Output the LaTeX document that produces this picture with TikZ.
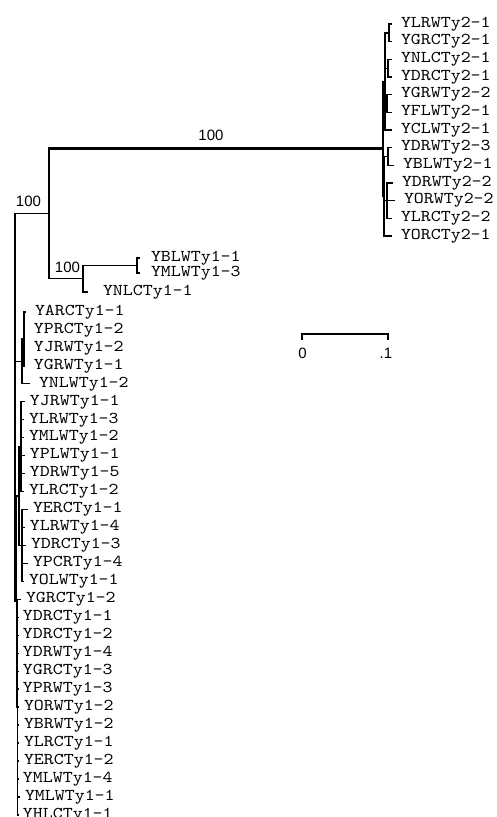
\documentclass[tikz,border=0pt]{standalone}
\usepackage{fontspec}
\newfontfamily\leaffont[FakeStretch=1.15]{lmmono10-regular.otf}
\newfontfamily\suppfont{Liberation Sans}

\begin{document}
\begin{tikzpicture}[x=1pt, y=-1pt,
  leaf/.style={anchor=west, inner sep=1pt, outer xsep=#1, font=\fontsize{16.5}{18}\leaffont},
  leaf/.default=8pt,
  supp/.style={inner sep=0pt, font=\fontsize{15}{15}\suppfont},
  br/.style={line width=1.3pt},
  main/.style={line width=3pt},
  scl/.style={line width=1.8pt}]
\useasboundingbox (0,0) rectangle (496,817);
% internal nodes
\coordinate (root) at (15,407.1); \coordinate (a) at (49,213.4);
\coordinate (b) at (83,278.8); \coordinate (bb) at (137,265.5);
\coordinate (t2) at (383,148);
\coordinate (u) at (385,81.4); \coordinate (ua) at (389,32.9); \coordinate (ub) at (388,68.2); \coordinate (uc) at (387,103.5);
\coordinate (l) at (384,196.3); \coordinate (la) at (388,156.6); \coordinate (lb) at (387,200.7);
\coordinate (s1) at (22,361.4); \coordinate (s1a) at (24,339);
\coordinate (g) at (16.5,601.6); \coordinate (g1) at (19,496.1); \coordinate (g1a) at (21,446.7); \coordinate (g1b) at (22,545.5);
\coordinate (g2) at (17.5,707.2);
% Ty2 leaves
\node[leaf] (ylrw21) at (392,24.0) {YLRWTy2-1};
\node[leaf] (ygrc21) at (392,41.7) {YGRCTy2-1};
\node[leaf] (ynlc21) at (392,59.3) {YNLCTy2-1};
\node[leaf] (ydrc21) at (392,77.0) {YDRCTy2-1};
\node[leaf] (ygrw22) at (392,94.7) {YGRWTy2-2};
\node[leaf] (yflw21) at (392,112.3) {YFLWTy2-1};
\node[leaf] (yclw21) at (392,130.0) {YCLWTy2-1};
\node[leaf] (ydrw23) at (392,147.7) {YDRWTy2-3};
\node[leaf] (yblw21) at (394,165.4) {YBLWTy2-1};
\node[leaf] (ydrw22) at (393,183.0) {YDRWTy2-2};
\node[leaf] (yorw22) at (395,200.7) {YORWTy2-2};
\node[leaf] (ylrc22) at (392,218.4) {YLRCTy2-2};
\node[leaf] (yorc21) at (392,236.0) {YORCTy2-1};
% Ty1 leaves
\node[leaf=10pt] (yblw11) at (140,258) {YBLWTy1-1};
\node[leaf=10pt] (ymlw13) at (140,273) {YMLWTy1-3};
\node[leaf=14pt] (ynlc11) at (88,292) {YNLCTy1-1};
\node[leaf] (yarc11) at (26,312.0) {YARCTy1-1};
\node[leaf] (yprc12) at (25,330.0) {YPRCTy1-2};
\node[leaf] (yjrw12) at (25,347.9) {YJRWTy1-2};
\node[leaf] (ygrw11) at (25,365.9) {YGRWTy1-1};
\node[leaf] (ynlw12) at (30,383.8) {YNLWTy1-2};
\node[leaf=4pt] (yjrw11) at (25,401.8) {YJRWTy1-1};
\node[leaf=4pt] (ylrw13) at (24,419.8) {YLRWTy1-3};
\node[leaf=4pt] (ymlw12) at (24,437.7) {YMLWTy1-2};
\node[leaf=4pt] (yplw11) at (25,455.6) {YPLWTy1-1};
\node[leaf=4pt] (ydrw15) at (25,473.6) {YDRWTy1-5};
\node[leaf=4pt] (ylrc12) at (24,491.6) {YLRCTy1-2};
\node[leaf=4pt] (yerc11) at (28,509.6) {YERCTy1-1};
\node[leaf=4pt] (ylrw14) at (25,527.5) {YLRWTy1-4};
\node[leaf=4pt] (ydrc13) at (26,545.5) {YDRCTy1-3};
\node[leaf=4pt] (ypcr14) at (28,563.4) {YPCRTy1-4};
\node[leaf=4pt] (yolw11) at (24,581.4) {YOLWTy1-1};
\node[leaf=4pt] (ygrc12) at (21,599.4) {YGRCTy1-2};
\node[leaf=4pt] (ydrc11) at (18,617.3) {YDRCTy1-1};
\node[leaf=4pt] (ydrc12) at (18,635.3) {YDRCTy1-2};
\node[leaf=4pt] (ydrw14) at (18,653.2) {YDRWTy1-4};
\node[leaf=4pt] (ygrc13) at (18,671.2) {YGRCTy1-3};
\node[leaf=4pt] (yprw13) at (18,689.1) {YPRWTy1-3};
\node[leaf=4pt] (yorw12) at (19,707.1) {YORWTy1-2};
\node[leaf=4pt] (ybrw12) at (19,725.1) {YBRWTy1-2};
\node[leaf=4pt] (ylrc11) at (19,743.0) {YLRCTy1-1};
\node[leaf=4pt] (yerc12) at (19,761.0) {YERCTy1-2};
\node[leaf=4pt] (ymlw14) at (18,778.9) {YMLWTy1-4};
\node[leaf=4pt] (ymlw11) at (20,796.9) {YMLWTy1-1};
\node[leaf=4pt] (yhlc11) at (18,814.9) {YHLCTy1-1};
% branches, Ty2
\draw[br] (ylrw21.west) -| (ua) (ygrc21.west) -| (ua) (ynlc21.west) -| (ub) (ydrc21.west) -| (ub);
\draw[br] (ygrw22.west) -| (uc) (yflw21.west) -| (uc) (ua) -| (u) (ub) -| (u) (uc) -| (u) (yclw21.west) -| (u);
\draw[br] (ydrw23.west) -| (la) (yblw21.west) -| (la) (ydrw22.west) -| (lb) (yorw22.west) -| (lb) (ylrc22.west) -| (lb);
\draw[br] (la) -| (l) (lb) -| (l) (yorc21.west) -| (l) (u) -| (t2) (l) -| (t2);
% branches, backbone
\draw[br] (t2) -| (a); \draw[main] (t2) -- (t2 -| a);
\draw[br] (yblw11.west) -| (bb) (ymlw13.west) -| (bb) (bb) -| (b) (ynlc11.west) -| (b) (b) -| (a);
\draw[br] (a) -| (root) (s1) -| (root) (g) -| (root);
% branches, Ty1
\draw[br] (yarc11.west) -| (s1a) (yprc12.west) -| (s1a) (yjrw12.west) -| (s1a) (ygrw11.west) -| (s1a);
\draw[br] (s1a) -| (s1) (ynlw12.west) -| (s1);
\draw[br] (yjrw11.west) -| (g1a) (ylrw13.west) -| (g1a) (ymlw12.west) -| (g1a) (yplw11.west) -| (g1a) (ydrw15.west) -| (g1a) (ylrc12.west) -| (g1a);
\draw[br] (yerc11.west) -| (g1b) (ylrw14.west) -| (g1b) (ydrc13.west) -| (g1b) (ypcr14.west) -| (g1b) (yolw11.west) -| (g1b);
\draw[br] (g1a) -| (g1) (g1b) -| (g1) (g1) -| (g) (g2) -| (g);
\draw[br] (ygrc12.west) -| (g2) (ydrc11.west) -| (g2) (ydrc12.west) -| (g2) (ydrw14.west) -| (g2) (ygrc13.west) -| (g2) (yprw13.west) -| (g2) (yorw12.west) -| (g2);
\draw[br] (ybrw12.west) -| (g2) (ylrc11.west) -| (g2) (yerc12.west) -| (g2) (ymlw14.west) -| (g2) (ymlw11.west) -| (g2) (yhlc11.west) -| (g2);
% support values
\node[supp] (p1) at (211,135) {100};
\node[supp] (p2) at (28.5,201) {100};
\node[supp] (p3) at (67.5,267) {100};
% scale bar
\coordinate (sc0) at (302,334); \coordinate (sc1) at (388,334);
\draw[scl] ([yshift=-6pt]sc0) -- (sc0) -- (sc1) -- ([yshift=-6pt]sc1);
\node[supp] (z0) at (302.5,353) {0};
\node[supp] (z1) at (386,353) {.1};
\end{tikzpicture}
\end{document}
